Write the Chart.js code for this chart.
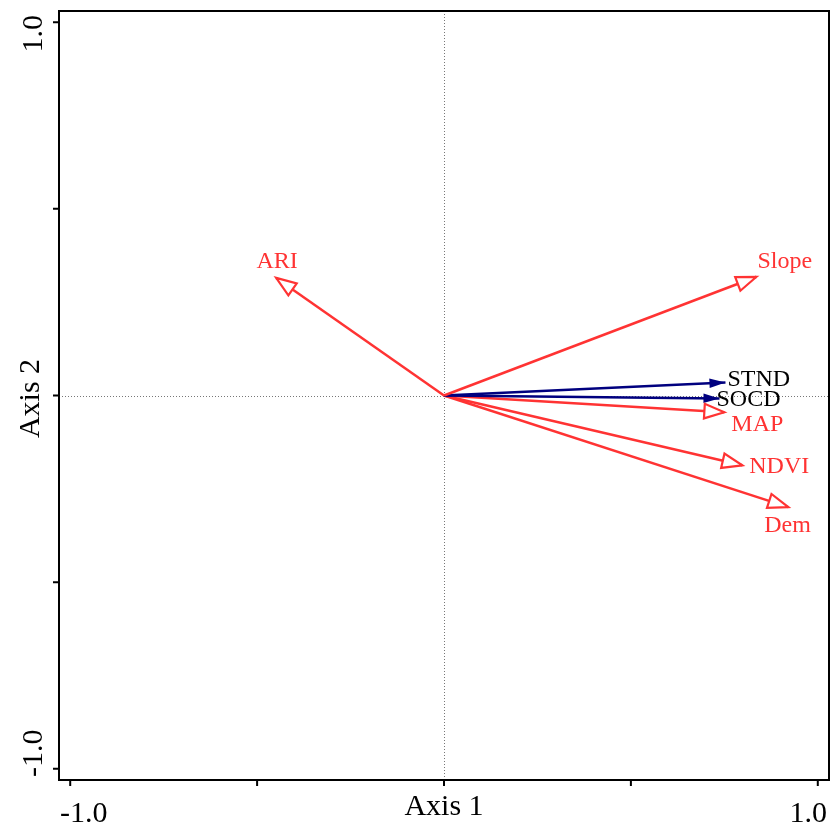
<!DOCTYPE html>
<html>
<head>
<meta charset="utf-8">
<script src="https://cdn.jsdelivr.net/npm/chart.js@4.4.1/dist/chart.umd.min.js"></script>
<style>
  html, body { margin: 0; padding: 0; background: #fff; }
  #wrap { width: 831px; height: 825px; }
</style>
</head>
<body>
<div id="wrap"><canvas id="biplot" width="831" height="825"></canvas></div>
<script>
// Variable loadings on the two ordination axes
const variables = ['ARI', 'Slope', 'STND', 'SOCD', 'MAP', 'NDVI', 'Dem'];
const axis1 = [-0.449, 0.836, 0.753, 0.737, 0.750, 0.798, 0.921];
const axis2 = [0.315, 0.318, 0.035, -0.008, -0.045, -0.187, -0.299];
// 'env' = red open arrows, 'resp' = navy filled arrows
const groups = ['env', 'env', 'resp', 'resp', 'env', 'env', 'env'];

const tickValues = [-1, -0.5, 0, 0.5, 1];
const tickLabels = ['-1.0', '', '', '', '1.0'];

const RED = '#ff3333';
const NAVY = '#00007f';
const SERIF = '"Liberation Serif", "Times New Roman", serif';

// where each label sits relative to its arrow tip (px)
const labelPlace = {
    ARI:   { align: 'center', dx: 1,   dy: -10 },
    Slope: { align: 'left',   dx: 1,   dy: -9 },
    STND:  { align: 'left',   dx: 2,   dy: 4 },
    SOCD:  { align: 'left',   dx: -3,  dy: 8 },
    MAP:   { align: 'left',   dx: 7,   dy: 19 },
    NDVI:  { align: 'left',   dx: 7,   dy: 8 },
    Dem:   { align: 'left',   dx: -24, dy: 25 }
};

const datasets = variables.map((name, i) => ({
    label: name,
    data: [{ x: 0, y: 0 }, { x: axis1[i], y: axis2[i] }],
    showLine: true,
    borderColor: groups[i] === 'env' ? RED : NAVY,
    borderWidth: 2.5,
    pointRadius: 0,
    group: groups[i]
}));

const biplotDecor = {
    id: 'biplotDecor',
    beforeDatasetsDraw(chart) {
        const { ctx, chartArea: a, scales: { x, y } } = chart;
        const x0 = Math.round(x.getPixelForValue(0)) + 0.5;
        const y0 = Math.round(y.getPixelForValue(0)) + 0.5;
        ctx.save();
        ctx.strokeStyle = '#777';
        ctx.lineWidth = 1;
        ctx.setLineDash([1, 2]);
        ctx.beginPath();
        ctx.moveTo(x0, a.top); ctx.lineTo(x0, a.bottom);
        ctx.moveTo(a.left, y0); ctx.lineTo(a.right, y0);
        ctx.stroke();
        ctx.restore();
    },
    afterDatasetsDraw(chart) {
        const ctx = chart.ctx;
        chart.data.datasets.forEach((ds, i) => {
            const pts = chart.getDatasetMeta(i).data;
            const p0 = pts[0], p1 = pts[1];
            const ang = Math.atan2(p1.y - p0.y, p1.x - p0.x);
            const open = ds.group === 'env';
            const L = open ? 20 : 16;
            const W = open ? 7.3 : 4.8;
            const bx = p1.x - L * Math.cos(ang), by = p1.y - L * Math.sin(ang);
            const nx = -Math.sin(ang) * W, ny = Math.cos(ang) * W;
            ctx.save();
            ctx.beginPath();
            ctx.moveTo(p1.x, p1.y);
            ctx.lineTo(bx + nx, by + ny);
            ctx.lineTo(bx - nx, by - ny);
            ctx.closePath();
            if (open) {
                ctx.fillStyle = '#fff';
                ctx.fill();
                ctx.strokeStyle = RED;
                ctx.lineWidth = 2.2;
                ctx.lineJoin = 'miter';
                ctx.stroke();
            } else {
                ctx.fillStyle = NAVY;
                ctx.fill();
            }
            const lp = labelPlace[ds.label];
            ctx.font = '24px ' + SERIF;
            ctx.fillStyle = open ? RED : '#000';
            ctx.textAlign = lp.align;
            ctx.textBaseline = 'alphabetic';
            ctx.fillText(ds.label, p1.x + lp.dx, p1.y + lp.dy);
            ctx.restore();
        });
    },
    afterDraw(chart) {
        const { ctx, chartArea: a, scales: { x, y } } = chart;
        ctx.save();
        ctx.strokeStyle = '#000';
        ctx.lineWidth = 2;
        ctx.strokeRect(a.left, a.top, a.right - a.left, a.bottom - a.top);
        ctx.beginPath();
        tickValues.forEach(v => {
            const px = x.getPixelForValue(v);
            const py = y.getPixelForValue(v);
            ctx.moveTo(px, a.bottom); ctx.lineTo(px, a.bottom + 6);
            ctx.moveTo(a.left - 6, py); ctx.lineTo(a.left, py);
        });
        ctx.stroke();

        ctx.fillStyle = '#000';
        ctx.font = '30px ' + SERIF;
        ctx.textBaseline = 'alphabetic';
        // x tick labels, kept inside the axis span
        ctx.textAlign = 'left';
        ctx.fillText(tickLabels[0], a.left + 1, a.bottom + 42);
        ctx.textAlign = 'right';
        ctx.fillText(tickLabels[4], a.right - 2, a.bottom + 42);
        ctx.textAlign = 'center';
        ctx.fillText('Axis 1', x.getPixelForValue(0), a.bottom + 35);

        // y tick labels, rotated
        ctx.save();
        ctx.translate(a.left - 17, a.top + 4);
        ctx.rotate(-Math.PI / 2);
        ctx.textAlign = 'right';
        ctx.fillText(tickLabels[4], 0, 0);
        ctx.restore();
        ctx.save();
        ctx.translate(a.left - 17, a.bottom - 3);
        ctx.rotate(-Math.PI / 2);
        ctx.textAlign = 'left';
        ctx.fillText(tickLabels[0], 0, 0);
        ctx.restore();
        ctx.save();
        ctx.translate(a.left - 20, y.getPixelForValue(0) + 3);
        ctx.rotate(-Math.PI / 2);
        ctx.textAlign = 'center';
        ctx.fillText('Axis 2', 0, 0);
        ctx.restore();
        ctx.restore();
    }
};

new Chart(document.getElementById('biplot'), {
    type: 'scatter',
    data: { datasets: datasets },
    options: {
        responsive: false,
        animation: false,
        layout: { padding: { left: 59, top: 11, right: 2, bottom: 45 } },
        plugins: { legend: { display: false }, tooltip: { enabled: false } },
        scales: {
            x: { type: 'linear', min: -1.03, max: 1.03, display: false },
            y: { type: 'linear', min: -1.03, max: 1.03, display: false }
        }
    },
    plugins: [biplotDecor]
});
</script>
</body>
</html>
